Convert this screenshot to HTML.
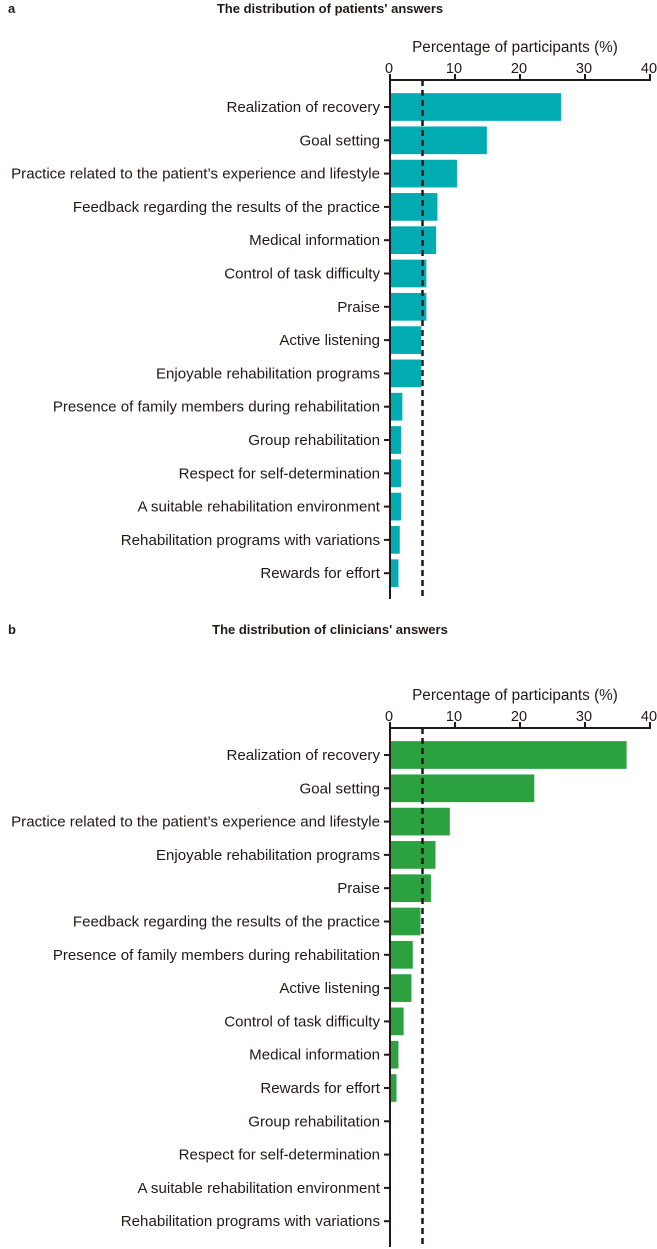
<!DOCTYPE html>
<html><head><meta charset="utf-8"><style>
body{margin:0;background:#fff}
svg{display:block;font-family:"Liberation Sans",Arial,sans-serif}
</style></head><body>
<svg id="s" width="657" height="1249" viewBox="0 0 657 1249"></svg>
<script>
const categoriesA=["Realization of recovery","Goal setting","Practice related to the patient’s experience and lifestyle","Feedback regarding the results of the practice","Medical information","Control of task difficulty","Praise","Active listening","Enjoyable rehabilitation programs","Presence of family members during rehabilitation","Group rehabilitation","Respect for self-determination","A suitable rehabilitation environment","Rehabilitation programs with variations","Rewards for effort"];
const valuesA=[26.3,14.9,10.3,7.3,7.1,5.6,5.6,4.8,4.8,1.9,1.7,1.7,1.7,1.5,1.3];
const categoriesB=["Realization of recovery","Goal setting","Practice related to the patient’s experience and lifestyle","Enjoyable rehabilitation programs","Praise","Feedback regarding the results of the practice","Presence of family members during rehabilitation","Active listening","Control of task difficulty","Medical information","Rewards for effort","Group rehabilitation","Respect for self-determination","A suitable rehabilitation environment","Rehabilitation programs with variations"];
const valuesB=[36.4,22.2,9.2,7.0,6.3,4.7,3.5,3.3,2.1,1.3,1.0,0.1,0.05,0,0];
const ticks=[0,10,20,30,40];
const threshold=5;
const svg=document.getElementById('s');
const NS="http://www.w3.org/2000/svg";
function mk(t,a,p){const e=document.createElementNS(NS,t);for(const k in a)e.setAttribute(k,a[k]);(p||svg).appendChild(e);return e;}
const x0=390,x1=650,xmax=40;
function xs(v){return x0+(x1-x0)*v/xmax;}
function panel(letter,title,cats,vals,color,titleY,ay,key){
  const g=mk('g',{});
  
  
  const l=mk('text',{x:8,y:titleY,'font-size':13,'font-weight':'bold',fill:'#231815'},g);l.textContent=letter;
  
  
  const t=mk('text',{x:330,y:titleY,'font-size':13,'font-weight':'bold','text-anchor':'middle',fill:'#231815'},g);t.textContent=title;
  
  
  const at=mk('text',{x:515,y:ay-28,'font-size':15.3,'text-anchor':'middle',fill:'#231815'},g);at.textContent="Percentage of participants (%)";
  
  
  const pitch=33.3,bh=27.7,first=ay+27;
  const yEnd=ay+519;
  vals.forEach((v,i)=>{
    const cy=first+i*pitch;
    if(v>0){const r=mk('rect',{x:x0,y:cy-bh/2,width:xs(v)-x0,height:bh,fill:color},g);
    
    }
    mk('line',{x1:x0-6,x2:x0,y1:cy,y2:cy,stroke:'#231815','stroke-width':2},g);
    const tx=mk('text',{x:380,y:cy+5,'font-size':15.1,'text-anchor':'end',fill:'#231815'},g);tx.textContent=cats[i];
    
    
  });
  mk('line',{x1:x0,x2:x0,y1:ay,y2:yEnd,stroke:'#231815','stroke-width':2},g);
  mk('line',{x1:x0-1,x2:x1+1,y1:ay,y2:ay,stroke:'#231815','stroke-width':2},g);
  ticks.forEach(tv=>{
    mk('line',{x1:xs(tv),x2:xs(tv),y1:ay-6,y2:ay,stroke:'#231815','stroke-width':2},g);
    const tl=mk('text',{x:xs(tv)-1,y:ay-7,'font-size':14.5,'text-anchor':'middle',fill:'#231815'},g);tl.textContent=tv;
    
    
  });
  const d=mk('line',{x1:xs(threshold),x2:xs(threshold),y1:ay,y2:yEnd,stroke:'#231815','stroke-width':2.5,'stroke-dasharray':'6,4'},g);
  
  
}
panel('a',"The distribution of patients' answers",categoriesA,valuesA,'#00abb1',13,80,'a');
panel('b',"The distribution of clinicians' answers",categoriesB,valuesB,'#2ba140',634,728,'b');
</script>
</body></html>
